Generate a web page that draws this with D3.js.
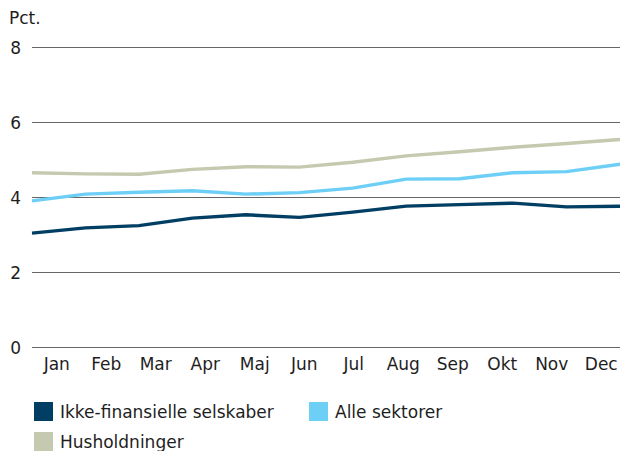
<!DOCTYPE html>
<html>
<head>
<meta charset="utf-8">
<script src="https://cdn.jsdelivr.net/npm/d3@7"></script>
<style>
  body { margin: 0; background: #fff; }
  text { font-family: "DejaVu Sans", sans-serif; fill: #1e1e1e; }
</style>
</head>
<body>
<svg id="chart" width="620" height="451"></svg>
<script>
// data
var months = ["Jan","Feb","Mar","Apr","Maj","Jun","Jul","Aug","Sep","Okt","Nov","Dec"];
var ikkeFinansielle = [3.05, 3.19, 3.25, 3.45, 3.54, 3.47, 3.61, 3.77, 3.81, 3.85, 3.75, 3.77];
var alleSektorer = [3.91, 4.09, 4.14, 4.18, 4.09, 4.13, 4.25, 4.49, 4.50, 4.66, 4.69, 4.89];
var husholdninger = [4.66, 4.63, 4.62, 4.75, 4.82, 4.81, 4.94, 5.11, 5.22, 5.34, 5.44, 5.55];
var yTicks = [0, 2, 4, 6, 8];

var series = [
  {name:"Husholdninger", values:husholdninger, color:"#c5c9b0"},
  {name:"Alle sektorer", values:alleSektorer, color:"#6ecff6"},
  {name:"Ikke-finansielle selskaber", values:ikkeFinansielle, color:"#003f63"}
];

var svg = d3.select("#chart");
var plotLeft = 32, plotRight = 620, plotTop = 47.5, plotBottom = 347.5;

var y = d3.scaleLinear().domain([0, 8]).range([plotBottom, plotTop]);
var xPoint = d3.scalePoint().domain(months).range([plotLeft, plotRight]);
var xBand = d3.scaleBand().domain(months).range([plotLeft, plotRight + 6]);

// grid lines + y labels
var grid = svg.append("g");
grid.selectAll("line").data(yTicks).enter().append("line")
  .attr("x1", plotLeft).attr("x2", plotRight)
  .attr("y1", function(d){ return y(d); })
  .attr("y2", function(d){ return y(d); })
  .attr("stroke", "#666").attr("stroke-width", 1.2);
grid.selectAll("text").data(yTicks).enter().append("text")
  .attr("x", 21).attr("y", function(d){ return y(d) + 6; })
  .attr("text-anchor", "end").attr("font-size", 17)
  .text(function(d){ return d; });

svg.append("text").attr("x", 9).attr("y", 24).attr("font-size", 17).text("Pct.");

// month labels
svg.append("g").selectAll("text").data(months).enter().append("text")
  .attr("x", function(d){ return xBand(d) + xBand.bandwidth() / 2; })
  .attr("y", 370).attr("text-anchor", "middle").attr("font-size", 17)
  .text(function(d){ return d; });

// lines
var line = d3.line()
  .x(function(d, i){ return xPoint(months[i]); })
  .y(function(d){ return y(d); });

svg.append("g").selectAll("path").data(series).enter().append("path")
  .attr("d", function(s){ return line(s.values); })
  .attr("fill", "none")
  .attr("stroke", function(s){ return s.color; })
  .attr("stroke-width", 3.5)
  .attr("stroke-linejoin", "round");

// legend
var legendItems = [
  {name:"Ikke-finansielle selskaber", color:"#003f63", x:34, y:402},
  {name:"Alle sektorer", color:"#6ecff6", x:309, y:402},
  {name:"Husholdninger", color:"#c5c9b0", x:34, y:432}
];
var lg = svg.append("g").selectAll("g").data(legendItems).enter().append("g")
  .attr("transform", function(d){ return "translate(" + d.x + "," + d.y + ")"; });
lg.append("rect").attr("width", 19).attr("height", 19)
  .attr("fill", function(d){ return d.color; });
lg.append("text").attr("x", 26).attr("y", 16).attr("font-size", 17)
  .text(function(d){ return d.name; });
</script>
</body>
</html>
